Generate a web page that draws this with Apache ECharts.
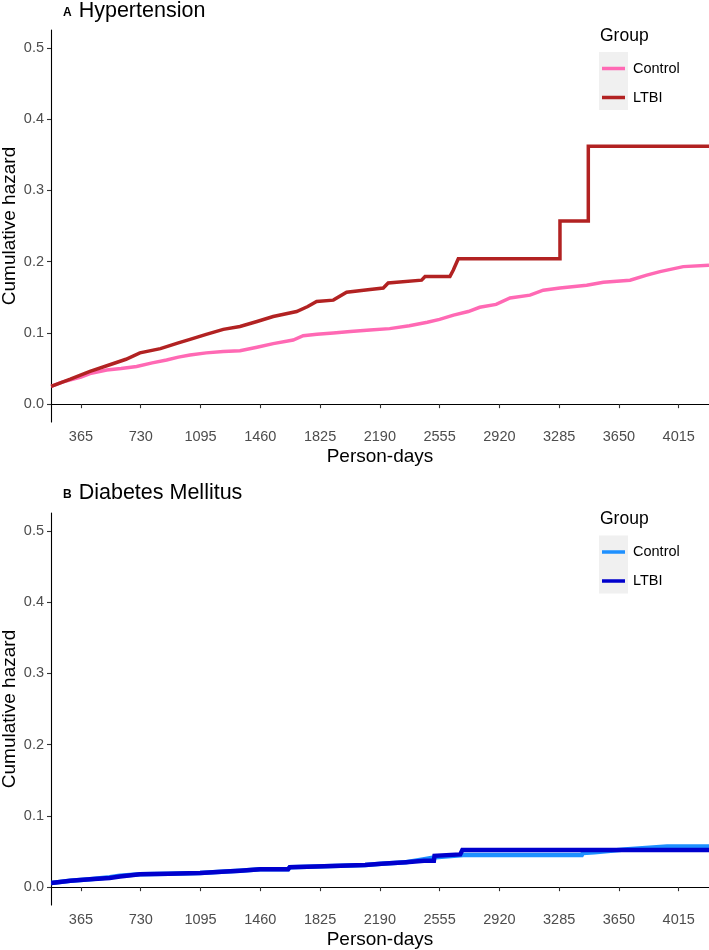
<!DOCTYPE html>
<html><head><meta charset="utf-8">
<script src="https://cdn.jsdelivr.net/npm/echarts@6/dist/echarts.min.js"></script>
<style>html,body{margin:0;padding:0;background:#fff}#c{width:709px;height:950px}</style>
</head><body><div id="c"></div>
<script>
// ---- tick labels ----
const xTicks = [365, 730, 1095, 1460, 1825, 2190, 2555, 2920, 3285, 3650, 4015];
const yTicks = [0, 0.1, 0.2, 0.3, 0.4, 0.5];
const groups = ['Control', 'LTBI'];

// ---- Panel A: Hypertension ----
const htnControlDays   = [183, 250, 365, 420, 522, 610, 705, 800, 888, 960, 1031, 1130, 1234, 1336, 1440, 1539, 1661, 1722, 1806, 1906, 2010, 2130, 2250, 2370, 2480, 2555, 2640, 2730, 2800, 2900, 2985, 3107, 3188, 3290, 3453, 3555, 3718, 3820, 3901, 4043, 4200];
const htnControlHazard = [0.025, 0.031, 0.038, 0.043, 0.048, 0.050, 0.053, 0.058, 0.062, 0.066, 0.069, 0.072, 0.074, 0.075, 0.080, 0.085, 0.090, 0.096, 0.098, 0.100, 0.102, 0.104, 0.106, 0.110, 0.115, 0.119, 0.125, 0.130, 0.136, 0.140, 0.149, 0.153, 0.160, 0.163, 0.167, 0.171, 0.174, 0.181, 0.186, 0.193, 0.195];
const htnLtbiDays      = [183, 300, 420, 550, 640, 725, 850, 960, 1031, 1130, 1234, 1336, 1440, 1539, 1682, 1750, 1804, 1906, 1987, 2130, 2211, 2241, 2445, 2466, 2618, 2638, 2669, 3290, 3290, 3463, 3463, 4200];
const htnLtbiHazard    = [0.025, 0.035, 0.046, 0.056, 0.063, 0.072, 0.078, 0.086, 0.091, 0.098, 0.105, 0.109, 0.116, 0.123, 0.130, 0.137, 0.144, 0.146, 0.157, 0.161, 0.163, 0.170, 0.174, 0.179, 0.179, 0.188, 0.204, 0.204, 0.257, 0.257, 0.362, 0.362];

// ---- Panel B: Diabetes Mellitus ----
const dmControlDays   = [183, 300, 420, 540, 603, 725, 900, 1092, 1250, 1336, 1460, 1630, 1640, 1800, 1950, 2100, 2199, 2350, 2453, 2530, 2700, 3000, 3423, 3430, 3500, 3684, 3944, 4200];
const dmControlHazard = [0.006, 0.009, 0.011, 0.014, 0.016, 0.018, 0.019, 0.020, 0.022, 0.023, 0.025, 0.025, 0.028, 0.029, 0.030, 0.031, 0.033, 0.035, 0.039, 0.042, 0.045, 0.045, 0.045, 0.048, 0.049, 0.053, 0.057, 0.057];
const dmLtbiDays      = [183, 300, 420, 540, 603, 725, 900, 1092, 1250, 1336, 1460, 1630, 1640, 1800, 1950, 2100, 2199, 2350, 2460, 2520, 2524, 2681, 2694, 4200];
const dmLtbiHazard    = [0.006, 0.009, 0.011, 0.013, 0.015, 0.018, 0.019, 0.020, 0.022, 0.023, 0.025, 0.025, 0.028, 0.029, 0.030, 0.031, 0.033, 0.035, 0.037, 0.037, 0.044, 0.046, 0.052, 0.052];

const colA = {Control: '#ff69b4', LTBI: '#b22222'};
const colB = {Control: '#1e90ff', LTBI: '#0000cd'};

const FONT = '"Liberation Sans", Arial, sans-serif';
const pair = (d, v) => d.map((x, i) => [x, v[i]]);

function xAxisFor(gi) {
  return {
    type: 'value', gridIndex: gi, min: 182, max: 4200,
    axisLine: {show: true, lineStyle: {color: '#000', width: 1.1}},
    axisTick: {show: true, length: 4, customValues: xTicks, lineStyle: {color: '#333', width: 1.1}},
    axisLabel: {customValues: xTicks, color: '#4d4d4d', fontSize: 14.5, fontFamily: FONT, margin: 7,
                formatter: v => String(Math.round(v))},
    splitLine: {show: false},
    name: 'Person-days', nameLocation: 'middle', nameGap: 25, nameMoveOverlap: false,
    nameTextStyle: {fontSize: 19, color: '#000', fontFamily: FONT}
  };
}
function yAxisFor(gi) {
  return {
    type: 'value', gridIndex: gi, min: -0.025, max: 0.525,
    axisLine: {show: true, lineStyle: {color: '#000', width: 1.1}},
    axisTick: {show: true, length: 4, customValues: yTicks, lineStyle: {color: '#333', width: 1.1}},
    axisLabel: {customValues: yTicks, color: '#4d4d4d', fontSize: 14.5, fontFamily: FONT, margin: 7,
                formatter: v => Math.abs(v).toFixed(1)},
    splitLine: {show: false},
    name: 'Cumulative hazard', nameLocation: 'middle', nameGap: 32, nameMoveOverlap: false,
    nameTextStyle: {fontSize: 19, color: '#000', fontFamily: FONT}
  };
}
function line(name, gi, data, color, w) {
  return {
    name, type: 'line', xAxisIndex: gi, yAxisIndex: gi, data,
    showSymbol: false, symbol: 'none', color,
    lineStyle: {color, width: w, join: 'miter'}, clip: true, animation: false, z: name === 'LTBI' ? 3 : 2
  };
}
function legendFor(top, cols) {
  return {
    orient: 'vertical', left: 602, top, padding: 0, itemWidth: 23, itemHeight: 3.5, itemGap: 12,
    icon: 'rect', selectedMode: false,
    textStyle: {fontSize: 14.5, color: '#000', fontFamily: FONT, padding: [0, 0, 0, 3], lineHeight: 17},
    data: groups.map(g => ({name: g, itemStyle: {color: cols[g]}, lineStyle: {color: cols[g]}}))
  };
}
function titleFor(letter, text, top) {
  return {
    text: '{a|' + letter + '}{b|' + text + '}', left: 63, top, padding: 0,
    textStyle: {rich: {
      a: {fontSize: 12, fontWeight: 'bold', color: '#000', fontFamily: FONT, verticalAlign: 'bottom', padding: [0, 7, 3, 0]},
      b: {fontSize: 21.5, fontWeight: 'normal', color: '#000', fontFamily: FONT}
    }}
  };
}

const chart = echarts.init(document.getElementById('c'), null, {renderer: 'canvas'});
chart.setOption({
  backgroundColor: '#fff',
  animation: false,
  title: [titleFor('A', 'Hypertension', 0), titleFor('B', 'Diabetes Mellitus', 482)],
  grid: [
    {left: 51, top: 30, width: 658, height: 392, containLabel: false, outerBoundsMode: 'none'},
    {left: 51, top: 513, width: 658, height: 392, containLabel: false, outerBoundsMode: 'none'}
  ],
  xAxis: [xAxisFor(0), xAxisFor(1)],
  yAxis: [yAxisFor(0), yAxisFor(1)],
  legend: [legendFor(60, colA), legendFor(543.5, colB)],
  graphic: [
    {type: 'rect', shape: {x: 599, y: 52, width: 29, height: 58}, style: {fill: '#f0f0f0'}, z: -1},
    {type: 'text', x: 600, y: 27, style: {text: 'Group', fontSize: 17.5, fill: '#000', fontFamily: FONT}},
    {type: 'rect', shape: {x: 599, y: 535.5, width: 29, height: 58}, style: {fill: '#f0f0f0'}, z: -1},
    {type: 'text', x: 600, y: 510.5, style: {text: 'Group', fontSize: 17.5, fill: '#000', fontFamily: FONT}}
  ],
  series: [
    line('Control', 0, pair(htnControlDays, htnControlHazard), colA.Control, 3.5),
    line('LTBI', 0, pair(htnLtbiDays, htnLtbiHazard), colA.LTBI, 3.5),
    line('Control', 1, pair(dmControlDays, dmControlHazard), colB.Control, 4.5),
    line('LTBI', 1, pair(dmLtbiDays, dmLtbiHazard), colB.LTBI, 4.5)
  ]
});
</script></body></html>
